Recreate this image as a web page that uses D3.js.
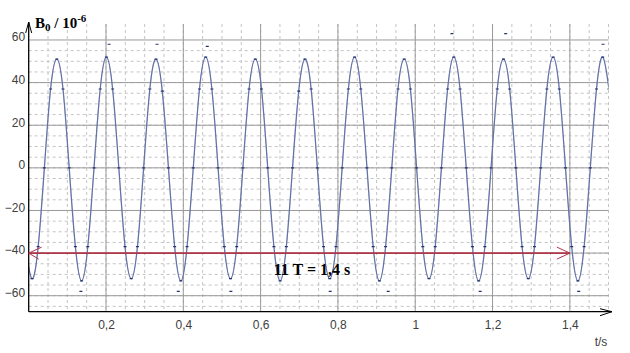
<!DOCTYPE html>
<html>
<head>
<meta charset="utf-8">
<script src="https://cdn.jsdelivr.net/npm/d3@7"></script>
<style>
    html, body { margin: 0; padding: 0; background: #fff; }
    svg { display: block; }
    .tick text { font-family: "Liberation Sans", Arial, sans-serif; font-size: 12px; fill: #404040; }
</style>
</head>
<body>
<div id="chart"></div>
<script>
// sampled B0 values (in 1e-6), regular sampling starting at t0 with step dt
const t0 = -0.0076;
const dt = 0.01605;
const bValues = [
    -37,
    -52, -37, 0, 37, 51, 37, 0, -37,
    -53, -37, 0, 37, 52, 37, 0, -37,
    -52, -37, 0, 37, 51, 36, 0, -37,
    -53, -37, 0, 37, 52, 37, 0, -37,
    -52, -37, 0, 37, 51, 37, 0, -37,
    -53, -37, 0, 36, 51, 37, 0, -37,
    -52, -37, 0, 37, 52, 37, 0, -37,
    -53, -37, 0, 37, 51, 37, 0, -37,
    -52, -37, 0, 37, 52, 37, 0, -37,
    -53, -37, 0, 37, 51, 37, 0, -37,
    -52, -37, 0, 37, 52, 37, 0, -37,
    -53, -37, 0, 37, 52, 37
];

// stray measurement points near the extremes
const strayT = [0.135, 0.208, 0.332, 0.387, 0.462, 0.523, 0.780, 0.930, 1.095, 1.168, 1.234, 1.423, 1.486];
const strayB = [-58, 58, 58, -58, 57, -58, -58, -58, 63, -58, 63, -58, 58];

const xTicks = [0.2, 0.4, 0.6, 0.8, 1, 1.2, 1.4];
const yTicks = [-60, -40, -20, 0, 20, 40, 60];

// period marker: 11 T = 1,4 s at B = -40
const spanStart = 0;
const spanEnd = 1.4;
const spanLevel = -40;
const spanLabel = '11 T = 1,4 s';

const W = 630, H = 353;

const x = d3.scaleLinear().domain([0, 1.5]).range([28.7, 608.5]);
const y = d3.scaleLinear().domain([-67.5, 67.5]).range([311.7, 24]);

const svg = d3.select('#chart').append('svg')
    .attr('width', W)
    .attr('height', H);

const plotTop = y(67.5), plotBottom = y(-67.5);

// minor grid
const gGrid = svg.append('g');
d3.range(0.05, 1.501, 0.05).forEach(v => {
    gGrid.append('line')
        .attr('x1', x(v)).attr('x2', x(v))
        .attr('y1', plotTop).attr('y2', plotBottom)
        .attr('stroke', '#c4c4c4')
        .attr('stroke-dasharray', '3,3');
});
d3.range(-65, 56, 5).forEach(v => {
    gGrid.append('line')
        .attr('x1', x(0)).attr('x2', x(1.5))
        .attr('y1', y(v)).attr('y2', y(v))
        .attr('stroke', '#c4c4c4')
        .attr('stroke-dasharray', '3,3');
});
// major grid
xTicks.forEach(v => {
    gGrid.append('line')
        .attr('x1', x(v)).attr('x2', x(v))
        .attr('y1', plotTop).attr('y2', plotBottom)
        .attr('stroke', '#9a9a9a');
});
yTicks.forEach(v => {
    gGrid.append('line')
        .attr('x1', x(0)).attr('x2', x(1.5))
        .attr('y1', y(v)).attr('y2', y(v))
        .attr('stroke', '#9a9a9a');
});

// axes labels
const locale = d3.formatLocale({ decimal: ',', thousands: '.', grouping: [3], currency: ['', ''] });
const xAxis = d3.axisBottom(x).tickValues(xTicks).tickSize(0).tickPadding(9).tickFormat(locale.format('~g'));
svg.append('g')
    .attr('transform', `translate(0,${y(-67.5)})`)
    .call(xAxis)
    .call(g => g.select('.domain').remove());

const yAxis = d3.axisLeft(y).tickValues(yTicks).tickSize(0).tickPadding(3);
svg.append('g')
    .attr('transform', `translate(${x(0) - 0.5},0)`)
    .call(yAxis)
    .call(g => g.select('.domain').remove())
    .call(g => g.selectAll('text').attr('dy', '0.32em').attr('y', -3));

// the data curve
const data = bValues.map((b, i) => ({ t: t0 + i * dt, b }));
svg.append('clipPath').attr('id', 'plotClip')
    .append('rect')
    .attr('x', x(0)).attr('y', plotTop)
    .attr('width', x(1.5) - x(0)).attr('height', plotBottom - plotTop);

const line = d3.line()
    .x(d => x(d.t))
    .y(d => y(d.b))
    .curve(d3.curveNatural);

const gData = svg.append('g').attr('clip-path', 'url(#plotClip)');
gData.append('path')
    .attr('d', line(data))
    .attr('fill', 'none')
    .attr('stroke', '#8593bd')
    .attr('stroke-width', 1.3);
gData.append('path')
    .attr('d', line(data))
    .attr('fill', 'none')
    .attr('stroke', '#2f3f80')
    .attr('stroke-width', 0.7)
    .attr('stroke-opacity', 0.6);

gData.selectAll('.mark')
    .data(data)
    .enter().append('line')
    .attr('class', 'mark')
    .attr('x1', d => x(d.t) - 1.5).attr('x2', d => x(d.t) + 1.5)
    .attr('y1', d => y(d.b)).attr('y2', d => y(d.b))
    .attr('stroke', '#23336f')
    .attr('stroke-width', 1.2);

gData.selectAll('.stray')
    .data(strayT.map((t, i) => ({ t, b: strayB[i] })))
    .enter().append('line')
    .attr('class', 'stray')
    .attr('x1', d => x(d.t) - 1.5).attr('x2', d => x(d.t) + 1.5)
    .attr('y1', d => y(d.b)).attr('y2', d => y(d.b))
    .attr('stroke', '#23336f')
    .attr('stroke-width', 1.2);

// axis lines with arrows
const axisG = svg.append('g').attr('stroke', '#000').attr('fill', 'none');
axisG.append('line')
    .attr('x1', x(0)).attr('x2', x(0))
    .attr('y1', y(-67.5)).attr('y2', 22)
    .attr('stroke-width', 1.3);
axisG.append('path')
    .attr('d', `M${x(0) - 3},${33} L${x(0)},${22} L${x(0) + 3},${33}`)
    .attr('stroke-width', 1);
axisG.append('line')
    .attr('x1', x(0)).attr('x2', 612)
    .attr('y1', y(-67.5)).attr('y2', y(-67.5))
    .attr('stroke-width', 1.3);
axisG.append('path')
    .attr('d', `M600,${y(-67.5) - 3} L612,${y(-67.5)} L600,${y(-67.5) + 4}`)
    .attr('stroke-width', 1);

// double arrow for 11 periods
const red = '#b0364a';
const ry = y(spanLevel);
svg.append('line')
    .attr('x1', x(spanStart)).attr('x2', x(spanEnd))
    .attr('y1', ry).attr('y2', ry)
    .attr('stroke', red)
    .attr('stroke-width', 1.8);
svg.append('path')
    .attr('d', `M${x(spanStart) + 13},${ry - 6} L${x(spanStart)},${ry} L${x(spanStart) + 10},${ry + 6}`)
    .attr('fill', 'none').attr('stroke', red).attr('stroke-width', 1);
svg.append('path')
    .attr('d', `M${x(spanEnd) - 13},${ry - 6} L${x(spanEnd)},${ry} L${x(spanEnd) - 13},${ry + 6}`)
    .attr('fill', 'none').attr('stroke', red).attr('stroke-width', 1);

svg.append('text')
    .attr('x', 312).attr('y', 275)
    .attr('text-anchor', 'middle')
    .style('font-family', '"Liberation Serif", "Times New Roman", serif')
    .style('font-weight', 'bold')
    .style('font-size', '16px')
    .attr('fill', '#000')
    .text(spanLabel);

// axis titles
const yTitle = svg.append('text')
    .attr('x', 35).attr('y', 28)
    .style('font-family', '"Liberation Serif", "Times New Roman", serif')
    .style('font-weight', 'bold')
    .style('font-size', '15px')
    .attr('fill', '#000');
yTitle.append('tspan').text('B');
yTitle.append('tspan').attr('dy', 3).style('font-size', '11px').text('0');
yTitle.append('tspan').attr('dy', -3).text(' / 10');
yTitle.append('tspan').attr('dy', -6).style('font-size', '11px').text('-6');

svg.append('text')
    .attr('x', 601).attr('y', 346)
    .attr('text-anchor', 'middle')
    .style('font-family', '"Liberation Sans", Arial, sans-serif')
    .style('font-size', '12px')
    .attr('fill', '#404040')
    .text('t/s');
</script>
</body>
</html>
